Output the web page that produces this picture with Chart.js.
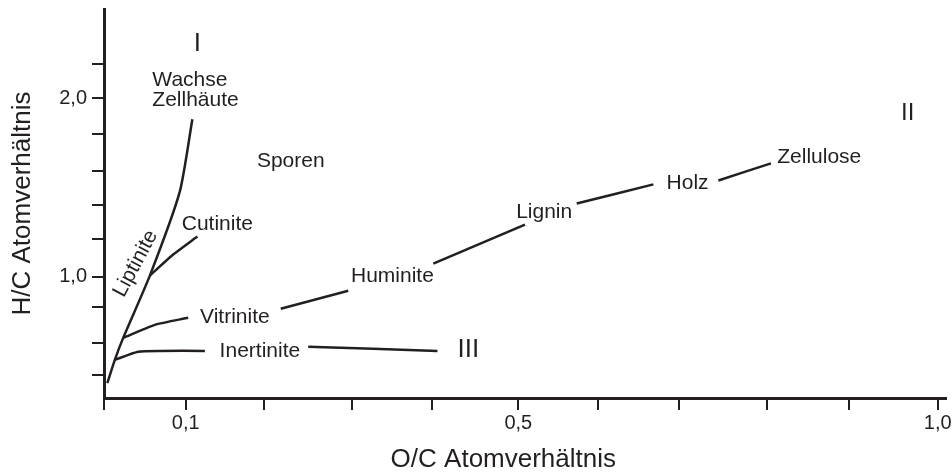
<!DOCTYPE html>
<html>
<head>
<meta charset="utf-8">
<script src="https://cdn.jsdelivr.net/npm/chart.js@4"></script>
<style>
    html, body { margin: 0; padding: 0; background: #fff; }
    #wrap { width: 952px; height: 473px; }
</style>
</head>
<body>
<div id="wrap"><canvas id="myChart"></canvas></div>
<script>
// Achsen (Striche wie in der Vorlage, leicht unregelmaessig)
const xTickValues = [0, 0.098, 0.192, 0.297, 0.393, 0.497, 0.593, 0.690, 0.795, 0.894, 1.0];
const xTickLabels = ['', '0,1', '', '', '', '0,5', '', '', '', '', '1,0'];
const yTickValues = [0.45, 0.63, 0.83, 1.0, 1.21, 1.4, 1.59, 1.8, 2.0, 2.19];
const yTickLabels = ['', '', '', '1,0', '', '', '', '', '2,0', ''];

// Linien (O/C, H/C)
const liptinite = [[0.004, 0.404], [0.013, 0.534], [0.023, 0.657], [0.055, 1.006], [0.091, 1.478], [0.106, 1.882]];
const cutinite = [[0.055, 1.006], [0.083, 1.124], [0.112, 1.225]];
const vitrinite = [[0.023, 0.657], [0.061, 0.730], [0.101, 0.770]];
const inertinite = [[0.013, 0.534], [0.041, 0.579], [0.067, 0.584], [0.121, 0.584]];
const inertiniteIII = [[0.245, 0.607], [0.400, 0.584]];
const vitrHuminite = [[0.212, 0.820], [0.293, 0.921]];
const huminLignin = [[0.395, 1.073], [0.505, 1.292]];
const ligninHolz = [[0.567, 1.410], [0.659, 1.517]];
const holzZellulose = [[0.737, 1.539], [0.800, 1.635]];

// Beschriftungen: Text, O/C, H/C (Grundlinie)
const labelTexts = ['I', 'Wachse', 'Zellhäute', 'Sporen', 'Cutinite', 'Vitrinite', 'Inertinite', 'Huminite', 'Lignin', 'III', 'Holz', 'Zellulose', 'II'];
const labelX = [0.112, 0.058, 0.058, 0.224, 0.136, 0.157, 0.187, 0.346, 0.528, 0.437, 0.700, 0.858, 0.964];
const labelY = [2.264, 2.067, 1.955, 1.612, 1.264, 0.742, 0.551, 0.972, 1.331, 0.551, 1.494, 1.635, 1.876];

const ink = '#231f20';
const fontFamily = '"Liberation Sans", Arial, Helvetica, sans-serif';

const lines = [liptinite, cutinite, vitrinite, inertinite, inertiniteIII, vitrHuminite, huminLignin, ligninHolz, holzZellulose];

const datasets = lines.map(pts => ({
    data: pts.map(p => ({ x: p[0], y: p[1] })),
    showLine: true,
    borderColor: ink,
    borderWidth: 2.5,
    pointRadius: 0,
    tension: 0.2,
    fill: false
}));

const labelPlugin = {
    id: 'labelPlugin',
    afterDatasetsDraw(chart) {
        const ctx = chart.ctx;
        const xs = chart.scales.x;
        const ys = chart.scales.y;
        ctx.save();
        ctx.fillStyle = ink;
        ctx.textBaseline = 'alphabetic';
        labelTexts.forEach((t, i) => {
            let size = 21;
            if (t === 'I' || t === 'III') size = 26;
            if (t === 'II') size = 24;
            ctx.font = size + 'px ' + fontFamily;
            ctx.textAlign = (t === 'Wachse' || t === 'Zellhäute') ? 'left' : 'center';
            ctx.fillText(t, xs.getPixelForValue(labelX[i]), ys.getPixelForValue(labelY[i]));
        });
        // Liptinite, schraeg
        ctx.save();
        ctx.translate(xs.getPixelForValue(0.038), ys.getPixelForValue(1.073));
        ctx.rotate(-62 * Math.PI / 180);
        ctx.font = '21px ' + fontFamily;
        ctx.textAlign = 'center';
        ctx.textBaseline = 'middle';
        ctx.fillText('Liptinite', 0, 0);
        ctx.restore();
        // x-Achsentitel
        ctx.font = '26px ' + fontFamily;
        ctx.textAlign = 'center';
        ctx.fillText('O/C Atomverhältnis', xs.getPixelForValue(0.479), chart.chartArea.bottom + 69);
        ctx.restore();
    }
};

new Chart(document.getElementById('myChart').getContext('2d'), {
    type: 'scatter',
    data: { datasets: datasets },
    options: {
        responsive: true,
        maintainAspectRatio: false,
        animation: false,
        layout: { padding: { top: 9, right: 6, left: 0, bottom: 0 } },
        plugins: {
            legend: { display: false },
            tooltip: { enabled: false }
        },
        scales: {
            x: {
                type: 'linear',
                min: 0,
                max: 1.01,
                afterBuildTicks: (scale) => { scale.ticks = xTickValues.map(v => ({ value: v })); },
                afterFit: (scale) => {
                    scale.height = 75;
                    scale.paddingLeft = 0;
                    scale.paddingRight = 0;
                },
                border: { display: true, color: ink, width: 3 },
                grid: { drawOnChartArea: false, drawTicks: true, tickLength: 12, color: ink, lineWidth: 2 },
                ticks: {
                    autoSkip: false,
                    maxRotation: 0,
                    padding: 1,
                    color: ink,
                    font: { family: fontFamily, size: 20 },
                    callback: (value, index) => xTickLabels[index]
                }
            },
            y: {
                type: 'linear',
                min: 0.32,
                max: 2.5,
                afterBuildTicks: (scale) => { scale.ticks = yTickValues.map(v => ({ value: v })); },
                afterFit: (scale) => {
                    scale.width = 104;
                    scale.paddingTop = 0;
                    scale.paddingBottom = 0;
                },
                border: { display: true, color: ink, width: 3 },
                grid: { drawOnChartArea: false, drawTicks: true, tickLength: 12, color: ink, lineWidth: 2 },
                ticks: {
                    autoSkip: false,
                    padding: 5,
                    color: ink,
                    font: { family: fontFamily, size: 20 },
                    callback: (value, index) => yTickLabels[index]
                },
                title: {
                    display: true,
                    text: 'H/C Atomverhältnis',
                    color: ink,
                    font: { family: fontFamily, size: 26 },
                    padding: { top: 7, bottom: 0 }
                }
            }
        }
    },
    plugins: [labelPlugin]
});
</script>
</body>
</html>
